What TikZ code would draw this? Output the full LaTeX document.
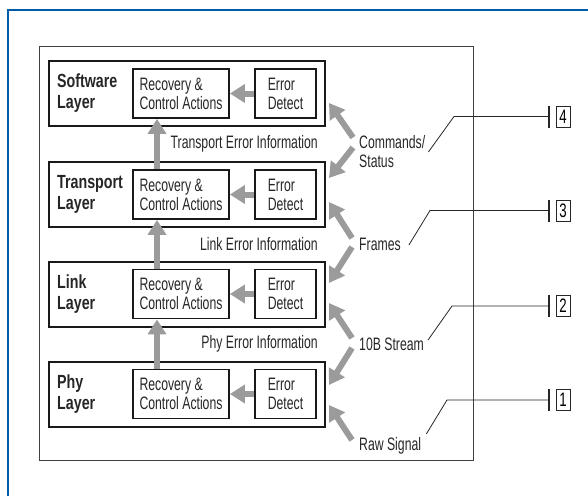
\documentclass[tikz,border=0pt]{standalone}
\usepackage{fontspec}
\newfontfamily\condsans{Liberation Sans}[FakeStretch=0.68]
\newfontfamily\condhead{Liberation Sans}[FakeStretch=0.75]
\usetikzlibrary{arrows.meta}
\definecolor{frameblue}{RGB}{0,92,170}
\definecolor{arrgray}{RGB}{155,155,155}
\tikzset{
  txt/.style={font=\condsans\fontsize{18}{19}\selectfont, text=black!85, align=left, inner sep=0pt},
  laytxt/.style={font=\condhead\bfseries\fontsize{19}{21}\selectfont},
  layerbox/.style={draw=black!90, line width=2pt, minimum width=276pt, minimum height=65pt, inner sep=0pt},
  actbox/.style={txt, draw=black!90, line width=1.8pt, minimum width=96pt, minimum height=49pt},
  detbox/.style={actbox, minimum width=61pt},
  garrow/.style={draw=arrgray, line width=6pt, -{Triangle[width=18pt,length=15pt]}},
  callout/.style={draw=black!85, line width=0.8pt, -{Bar[width=22pt,line width=1.4pt]}, shorten >=6pt},
  numbox/.style={draw=black!85, line width=0.6pt, minimum width=14pt, minimum height=21pt, inner sep=0pt, font=\condsans\fontsize{19.5}{19.5}\selectfont}
}
\begin{document}
\begin{tikzpicture}[x=1pt,y=-1pt]
  \useasboundingbox (0,0) rectangle (588,496);
  \draw[frameblue, line width=1.6pt] (8,496) -- (8,10) -- (588,10);
  \draw[black!75, line width=0.8pt] (39,46) rectangle (473,460);
  % layers
  \node[layerbox] (sw) at (187,93.5) {};
  \node[layerbox] (tr) at (187,194.5) {};
  \node[layerbox] (lk) at (187,294) {};
  \node[layerbox] (ph) at (187,394) {};
  \node[txt, laytxt, anchor=west] (swn) at (57,93.5) {Software\\Layer};
  \node[txt, laytxt, anchor=west] (trn) at (57,194.5) {Transport\\Layer};
  \node[txt, laytxt, anchor=west] (lkn) at (57,294) {Link\\Layer};
  \node[txt, laytxt, anchor=west] (phn) at (57,394) {Phy\\Layer};
  \node[actbox] (swr) at (181,93.5) {Recovery \&\\Control Actions};
  \node[actbox] (trr) at (181,194.5) {Recovery \&\\Control Actions};
  \node[actbox] (lkr) at (181,294) {Recovery \&\\Control Actions};
  \node[actbox] (phr) at (181,394) {Recovery \&\\Control Actions};
  \node[detbox] (swd) at (285.5,93.5) {Error\\Detect};
  \node[detbox] (trd) at (285.5,194.5) {Error\\Detect};
  \node[detbox] (lkd) at (285.5,294) {Error\\Detect};
  \node[detbox] (phd) at (285.5,394) {Error\\Detect};
  % error information
  \node[txt, anchor=east] (ti) at (318,144) {Transport Error Information};
  \node[txt, anchor=east] (li) at (318,244) {Link Error Information};
  \node[txt, anchor=east] (pi) at (318,344) {Phy Error Information};
  % signals
  \node[txt, anchor=west] (cs) at (359,151.5) {Commands/\\Status};
  \node[txt, anchor=west] (fr) at (359,244) {Frames};
  \node[txt, anchor=west] (bs) at (359,344) {10B Stream};
  \node[txt, anchor=west] (rs) at (359,446) {Raw Signal};
  \begin{scope}[garrow]
    \draw (swd) -- (swr);
    \draw (trd) -- (trr);
    \draw (lkd) -- (lkr);
    \draw (phd) -- (phr);
    \draw ([xshift=-24pt]trr.north) -- ([xshift=-24pt]swr.south);
    \draw ([xshift=-24pt]lkr.north) -- ([xshift=-24pt]trr.south);
    \draw ([xshift=-24pt]phr.north) -- ([xshift=-24pt]lkr.south);
    \draw ([shift={(-6,-14)}]cs.west) -- ([shift={(3,9.5)}]sw.east);
    \draw ([shift={(-6,-4)}]cs.west) -- ([shift={(3,-16.5)}]tr.east);
    \draw ([shift={(-7,-6)}]fr.west) -- ([shift={(3,7.5)}]tr.east);
    \draw ([shift={(-7,3)}]fr.west) -- ([shift={(3,-11)}]lk.east);
    \draw ([shift={(-7,-6)}]bs.west) -- ([shift={(3,9)}]lk.east);
    \draw ([shift={(-7,4)}]bs.west) -- ([shift={(3,-9)}]ph.east);
    \draw ([shift={(-7,-6)}]rs.west) -- ([shift={(3,11)}]ph.east);
  \end{scope}
  % callouts
  \node[numbox] (n4) at (563,116.5) {4};
  \node[numbox] (n3) at (563,210.5) {3};
  \node[numbox] (n2) at (563,306) {2};
  \node[numbox] (n1) at (563,400) {1};
  \coordinate (k4) at (454,116.5);
  \coordinate (k3) at (430,210.5);
  \coordinate (k2) at (452,306);
  \coordinate (k1) at (447,400);
  \draw[callout] ([shift={(3,0.5)}]cs.east) -- (k4) -- (n4.west);
  \draw[callout] ([shift={(8,1)}]fr.east) -- (k3) -- (n3.west);
  \draw[callout] ([shift={(4,-4)}]bs.east) -- (k2) -- (n2.west);
  \draw[callout] ([shift={(5,-12)}]rs.east) -- (k1) -- (n1.west);
\end{tikzpicture}
\end{document}
